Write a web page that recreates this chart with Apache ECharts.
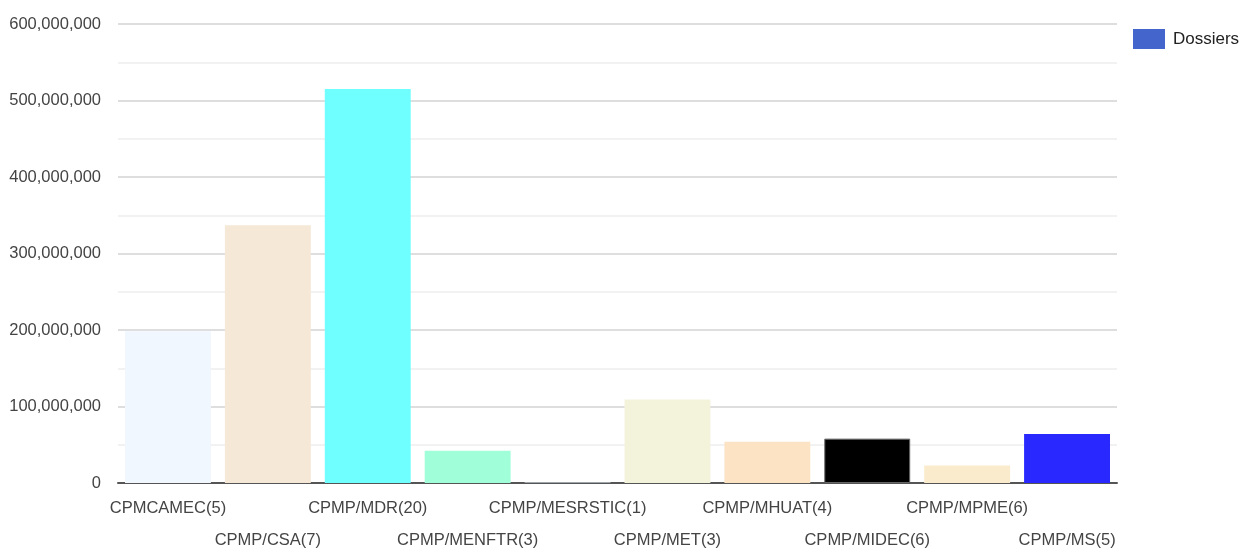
<!DOCTYPE html>
<html>
<head>
<meta charset="utf-8">
<script src="https://cdn.jsdelivr.net/npm/echarts@6/dist/echarts.min.js"></script>
<style>
html,body{margin:0;padding:0;background:#fff;}
#c{width:1240px;height:552px;}
</style>
</head>
<body>
<div id="c"></div>
<script>
const categories = ['CPMCAMEC(5)','CPMP/CSA(7)','CPMP/MDR(20)','CPMP/MENFTR(3)','CPMP/MESRSTIC(1)','CPMP/MET(3)','CPMP/MHUAT(4)','CPMP/MIDEC(6)','CPMP/MPME(6)','CPMP/MS(5)'];
const values = [198500000, 337000000, 515000000, 42300000, 800000, 109000000, 54000000, 58000000, 23000000, 64200000];
const barColors = ['#F0F7FF','#F5E8D6','#70FFFF','#A0FFD8','#E8F8FF','#F3F3DC','#FBE3C4','#000000','#FAEBCD','#2828FF'];
const seriesName = 'Dossiers';
const yTicks = {min:0, max:600000000, interval:100000000};

const chart = echarts.init(document.getElementById('c'), null, {renderer:'canvas'});
const font = '"Liberation Sans", Arial, sans-serif';
chart.setOption({
  animation:false,
  backgroundColor:'#fff',
  legend:{
    data:[{name:seriesName, icon:'rect', itemStyle:{color:'#4466CC'}}],
    left:1128, top:24, itemWidth:32, itemHeight:20, itemGap:8,
    textStyle:{fontFamily:font, fontSize:17, color:'#222', padding:[0,0,0,3]}
  },
  grid:{left:118, right:123, top:24, bottom:69, containLabel:false, outerBoundsMode:'none'},
  xAxis:{
    type:'category',
    data:categories,
    axisTick:{show:false},
    axisLine:{lineStyle:{color:'#555', width:2}},
    axisLabel:{
      interval:0, margin:9, lineHeight:32,
      fontFamily:font, fontSize:16.5, color:'#444',
      formatter:(v, i) => (i % 2 ? '\n' + v : v)
    }
  },
  yAxis:{
    type:'value',
    min:yTicks.min, max:yTicks.max, interval:yTicks.interval,
    axisLine:{show:false}, axisTick:{show:false},
    axisLabel:{margin:17, fontFamily:font, fontSize:16.5, color:'#444',
      formatter:v => v.toString().replace(/\B(?=(\d{3})+(?!\d))/g, ',')},
    splitLine:{lineStyle:{color:'#dedede', width:2}},
    minorTick:{show:false, splitNumber:2},
    minorSplitLine:{show:true, lineStyle:{color:'#eeeeee', width:1.5}}
  },
  series:[{
    name:seriesName,
    type:'bar',
    barCategoryGap:'14%',
    itemStyle:{color:'#4466CC'},
    data:values.map((v,i)=>({
      value:v,
      itemStyle: i === 7 ? {color:barColors[i], borderColor:'#666', borderWidth:1} : {color:barColors[i]}
    }))
  }]
});
</script>
</body>
</html>
